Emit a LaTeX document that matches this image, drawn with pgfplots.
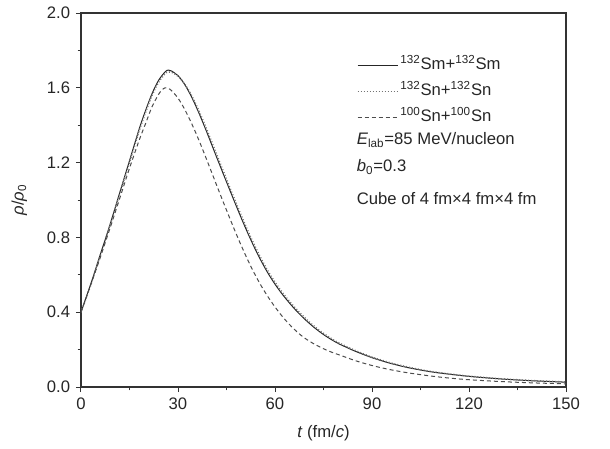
\documentclass[border=0pt]{standalone}
\usepackage{fontspec}
\setmainfont{Liberation Sans}
\usepackage{pgfplots}
\pgfplotsset{compat=1.18}

\pgfplotstableread{
t rho
0 0.40
3 0.55
6 0.71
9 0.87
12 1.04
15 1.21
18 1.38
20 1.48
22 1.57
24 1.64
26 1.685
27 1.695
28 1.69
30 1.665
32 1.62
34 1.558
36 1.484
38 1.402
40 1.315
42 1.227
44 1.14
46 1.054
48 0.969
50 0.886
52 0.807
54 0.733
56 0.665
58 0.604
60 0.55
62 0.502
64 0.459
66 0.419
68 0.383
70 0.35
72 0.32
74 0.293
76 0.269
78 0.248
80 0.229
85 0.19
90 0.157
95 0.13
100 0.108
105 0.091
110 0.077
120 0.057
130 0.043
140 0.033
150 0.026
}\smsm

\pgfplotstableread{
t rho
0 0.40
3 0.545
6 0.705
9 0.865
12 1.035
15 1.20
18 1.37
20 1.47
22 1.56
24 1.63
26 1.675
27 1.685
28 1.683
30 1.662
32 1.622
34 1.566
36 1.495
38 1.415
40 1.33
42 1.242
44 1.155
46 1.068
48 0.983
50 0.9
52 0.82
54 0.746
56 0.677
58 0.615
60 0.561
62 0.512
64 0.468
66 0.428
68 0.391
70 0.357
72 0.327
74 0.299
76 0.275
78 0.253
80 0.234
85 0.194
90 0.16
95 0.133
100 0.111
105 0.093
110 0.079
120 0.058
130 0.044
140 0.034
150 0.027
}\snsn

\pgfplotstableread{
t rho
0 0.40
3 0.545
6 0.695
9 0.85
12 1.01
15 1.17
18 1.32
20 1.41
22 1.50
24 1.565
25 1.588
26 1.60
27 1.597
28 1.585
30 1.545
32 1.487
34 1.417
36 1.339
38 1.254
40 1.166
42 1.077
44 0.989
46 0.903
48 0.819
50 0.739
52 0.664
54 0.595
56 0.533
58 0.478
60 0.428
62 0.383
64 0.343
66 0.308
68 0.277
70 0.252
72 0.231
74 0.213
76 0.197
78 0.183
80 0.171
85 0.14
90 0.115
95 0.095
100 0.079
105 0.066
110 0.055
115 0.046
120 0.039
130 0.029
140 0.022
150 0.017
}\snhund

\begin{document}
\begin{tikzpicture}
\path[use as bounding box] (-48.6pt,-36.6pt) rectangle (317.4pt,232.2pt);
\begin{axis}[
  at={(0,0)}, anchor=origin,
  scale only axis, width=291pt, height=224.4pt,
  xmin=0, xmax=150, ymin=0, ymax=2.0,
  xtick={0,30,...,150}, ytick={0,0.4,...,2.0},
  minor x tick num=1, minor y tick num=1,
  tick align=outside, xtick pos=left, ytick pos=left,
  major tick length=3pt, minor tick length=2pt,
  axis line style={line width=0.7pt, black!80},
  every tick/.style={black!80, line width=0.6pt},
  /pgf/number format/assume math mode=true,
  yticklabel style={/pgf/number format/fixed, /pgf/number format/fixed zerofill, /pgf/number format/precision=1},
  tick label style={font=\fontsize{10}{12}\selectfont, text=black!85},
  label style={font=\fontsize{10}{12}\selectfont, text=black!85},
  xlabel={\textit{t} (fm/\textit{c})},
  ylabel={\textit{ρ}/\textit{ρ}\textsubscript{0}},
  xlabel shift=2.5pt, ylabel shift=5pt,
  legend style={draw=none, fill=none, at={(rel axis cs:0.568,0.885)}, anchor=north west,
    inner sep=0pt, row sep=4.6pt,
    nodes={inner sep=1pt, text height=7pt, text depth=2pt, font=\fontsize{10}{12}\selectfont, text=black!85}},
  legend cell align=left,
  legend image code/.code={\draw[#1] (0cm,0cm) -- (0.85cm,0cm);},
]
\addplot[black!85, line width=0.6pt, smooth] table {\smsm};
\addlegendentry{\textsuperscript{132}Sm+\textsuperscript{132}Sm}
\addplot[black!55, line width=0.9pt, dash pattern=on 0.6pt off 1.2pt, smooth] table {\snsn};
\addlegendentry{\textsuperscript{132}Sn+\textsuperscript{132}Sn}
\addplot[black!70, line width=0.6pt, dash pattern=on 2.4pt off 1.8pt, smooth] table {\snhund};
\addlegendentry{\textsuperscript{100}Sn+\textsuperscript{100}Sn}
\node[anchor=west, inner sep=0pt, font=\fontsize{10}{12}\selectfont, text=black!85] at (rel axis cs:0.568,0.660) {\textit{E}\textsubscript{lab}=85 MeV/nucleon};
\node[anchor=west, inner sep=0pt, font=\fontsize{10}{12}\selectfont, text=black!85] at (rel axis cs:0.568,0.588) {\textit{b}\textsubscript{0}=0.3};
\node[anchor=west, inner sep=0pt, font=\fontsize{10}{12}\selectfont, text=black!85] at (rel axis cs:0.568,0.505) {Cube of 4 fm×4 fm×4 fm};
\end{axis}
\end{tikzpicture}
\end{document}
